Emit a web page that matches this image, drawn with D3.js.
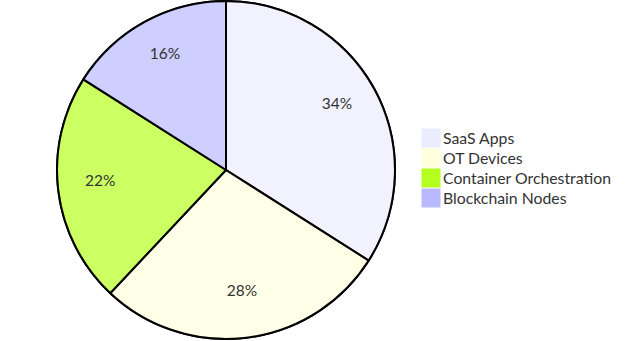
<!DOCTYPE html>
<html>
<head>
<meta charset="utf-8">
<script src="https://cdn.jsdelivr.net/npm/d3@7"></script>
<style>
  html, body { margin: 0; padding: 0; background: #fff; }
  svg text { font-family: "Trebuchet MS", Lato, sans-serif; fill: #333; }
</style>
</head>
<body>
<svg id="chart" width="641" height="341"></svg>
<script>
// Share of workloads by category
const categories = ["SaaS Apps", "OT Devices", "Container Orchestration", "Blockchain Nodes"];
const values = [34, 28, 22, 16];
const colors = ["#ececff", "#ffffde", "#b5ff20", "#b9b9ff"];

const svg = d3.select("#chart");
const cx = 226, cy = 170, radius = 169;

const data = categories.map((c, i) => ({ label: c, value: values[i], color: colors[i] }));
const total = d3.sum(values);

const pie = d3.pie().value(d => d.value).sort(null);
const arc = d3.arc().innerRadius(0).outerRadius(radius);
const labelArc = d3.arc().innerRadius(radius * 0.75).outerRadius(radius * 0.75);

const g = svg.append("g").attr("transform", `translate(${cx},${cy})`);

g.append("circle")
  .attr("r", radius)
  .attr("fill", "none")
  .attr("stroke", "#000")
  .attr("stroke-width", 2);

const arcs = pie(data);

g.selectAll("path.slice")
  .data(arcs)
  .join("path")
  .attr("class", "slice")
  .attr("d", arc)
  .attr("fill", d => d.data.color)
  .attr("fill-opacity", 0.7)
  .attr("stroke", "#000")
  .attr("stroke-width", 2);

g.selectAll("text.pct")
  .data(arcs)
  .join("text")
  .attr("class", "pct")
  .attr("transform", d => `translate(${labelArc.centroid(d)})`)
  .attr("text-anchor", "middle")
  .style("font-size", "15.5px")
  .text(d => Math.round(d.data.value / total * 100) + "%");

// Legend
const legend = svg.append("g").attr("transform", "translate(422,129)");
const item = legend.selectAll("g.item")
  .data(data)
  .join("g")
  .attr("class", "item")
  .attr("transform", (d, i) => `translate(0,${i * 20})`);

item.append("rect")
  .attr("width", 18)
  .attr("height", 18)
  .attr("fill", d => d.color)
  .attr("stroke", d => d.color);

item.append("text")
  .attr("x", 21)
  .attr("y", 14.5)
  .style("font-size", "15.8px")
  .text(d => d.label);
</script>
</body>
</html>
